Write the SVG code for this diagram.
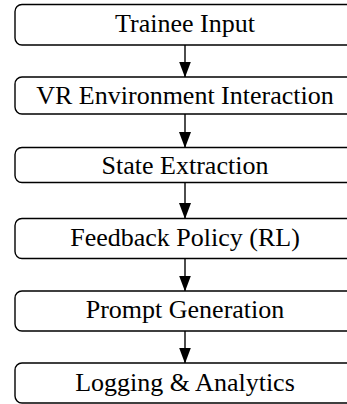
<svg xmlns="http://www.w3.org/2000/svg" width="347" height="404" viewBox="0 0 347 404">
  <style>
    .box { fill: #ffffff; stroke: #000000; stroke-width: 1.4; }
    .label { font-family: "Liberation Serif", "Times New Roman", serif; font-size: 26px; fill: #000000; text-anchor: middle; }
    .link { fill: none; stroke: #000000; stroke-width: 1.4; }
  </style>
  <defs>
    <marker id="arrowhead" markerUnits="userSpaceOnUse" markerWidth="16" markerHeight="12" refX="15.5" refY="6" orient="auto" viewBox="0 0 16 12">
      <path d="M0,0 L16,6 L0,12 Z" fill="#000000"/>
    </marker>
  </defs>

  <rect width="347" height="404" fill="#ffffff"/>

  <g id="connectors">
    <line class="link" x1="185" y1="45" x2="185" y2="77" marker-end="url(#arrowhead)"/>
    <line class="link" x1="185" y1="114" x2="185" y2="147.5" marker-end="url(#arrowhead)"/>
    <line class="link" x1="185" y1="182.5" x2="185" y2="218.5" marker-end="url(#arrowhead)"/>
    <line class="link" x1="185" y1="258.5" x2="185" y2="291" marker-end="url(#arrowhead)"/>
    <line class="link" x1="185" y1="331" x2="185" y2="363" marker-end="url(#arrowhead)"/>
  </g>

  <!-- boxes run past the right edge of the canvas -->
  <g id="trainee-input">
    <rect class="box" x="15" y="4.5" width="350" height="40.5" rx="7"/>
    <text class="label" x="185" y="32">Trainee Input</text>
  </g>
  <g id="vr-environment">
    <rect class="box" x="15" y="77" width="350" height="37" rx="7"/>
    <text class="label" x="185" y="104">VR Environment Interaction</text>
  </g>
  <g id="state-extraction">
    <rect class="box" x="15" y="147.5" width="350" height="35" rx="7"/>
    <text class="label" x="185" y="174">State Extraction</text>
  </g>
  <g id="feedback-policy">
    <rect class="box" x="15" y="218.5" width="350" height="40" rx="7"/>
    <text class="label" x="185" y="245.5">Feedback Policy (RL)</text>
  </g>
  <g id="prompt-generation">
    <rect class="box" x="15" y="291" width="350" height="40" rx="7"/>
    <text class="label" x="185" y="318">Prompt Generation</text>
  </g>
  <g id="logging-analytics">
    <rect class="box" x="15" y="363" width="350" height="40" rx="7"/>
    <text class="label" x="185" y="390.5">Logging &amp; Analytics</text>
  </g>
</svg>
